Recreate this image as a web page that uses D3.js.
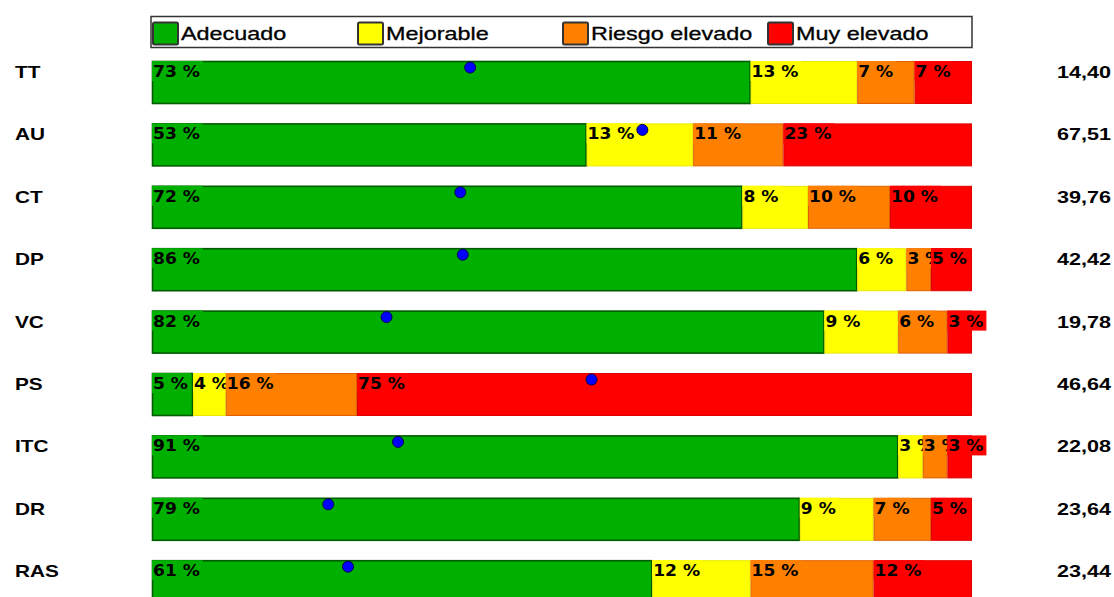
<!DOCTYPE html>
<html>
<head>
<meta charset="utf-8">
<script src="https://cdn.jsdelivr.net/npm/d3@7"></script>
<style>
  html, body { margin: 0; padding: 0; background: #fff; }
  svg { display: block; }
</style>
</head>
<body>
<svg id="chart" width="1114" height="597"></svg>
<script>
// Dimensions evaluated, in display order
const categories = ["TT", "AU", "CT", "DP", "VC", "PS", "ITC", "DR", "RAS"];

// Percentage of people in each risk level
const levels = ["Adecuado", "Mejorable", "Riesgo elevado", "Muy elevado"];
const adecuado      = [73, 53, 72, 86, 82,  5, 91, 79, 61];
const mejorable     = [13, 13,  8,  6,  9,  4,  3,  9, 12];
const riesgoElevado = [ 7, 11, 10,  3,  6, 16,  3,  7, 15];
const muyElevado    = [ 7, 23, 10,  5,  3, 75,  3,  5, 12];

// Mean score marker, on the same 0-100 axis
const media = [38.8, 59.8, 37.6, 37.9, 28.6, 53.6, 30.0, 21.5, 23.9];

// Figure shown to the right of each bar
const valores = ["14,40", "67,51", "39,76", "42,42", "19,78", "46,64", "22,08", "23,64", "23,44"];

const colors = ["#00b000", "#ffff00", "#ff8000", "#ff0000"];
const strokes = ["#005a00", "#e8e800", "#e06000", "#e00000"];

const series = [adecuado, mejorable, riesgoElevado, muyElevado];

const svg = d3.select("#chart");

const x = d3.scaleLinear().domain([0, 100]).range([152, 972]);
const y = d3.scaleBand()
  .domain(categories)
  .range([61, 61 + 8 * 62.4 + 43])
  .paddingInner(0.311)
  .paddingOuter(0);

// Legend
const legend = svg.append("g");
legend.append("rect")
  .attr("x", 151).attr("y", 16.5)
  .attr("width", 821).attr("height", 31)
  .attr("fill", "#fff").attr("stroke", "#333").attr("stroke-width", 1.5);

const legendStep = (x(100) - x(0)) / levels.length;
levels.forEach((name, i) => {
  const lx = x(0) + i * legendStep;
  legend.append("rect")
    .attr("x", lx + 1).attr("y", 22.5)
    .attr("width", 25).attr("height", 22)
    .attr("rx", 1.5)
    .attr("fill", colors[i]).attr("stroke", "#333").attr("stroke-width", 2);
  legend.append("text")
    .attr("transform", `translate(${lx + 29},40) scale(1.3,1)`)
    .attr("font-family", "Liberation Sans, Arial, sans-serif")
    .attr("font-size", 18)
    .attr("fill", "#000")
    .attr("stroke", "#000").attr("stroke-width", 0.3)
    .text(name);
});

// Bars
const rows = svg.append("g");
categories.forEach((cat, r) => {
  const top = y(cat);
  const h = y.bandwidth();
  const g = rows.append("g");
  let acc = 0;
  series.forEach((vals, s) => {
    const v = vals[r];
    const x0 = x(acc), x1 = x(acc + v);
    g.append("rect")
      .attr("x", x0 + 0.5).attr("y", top + 0.5)
      .attr("width", Math.max(0, x1 - x0 - 1)).attr("height", h - 1)
      .attr("fill", colors[s])
      .attr("stroke", strokes[s])
      .attr("stroke-width", s === 0 ? 1.6 : 1);

    // value label with a background box in the segment colour
    const lab = g.append("g");
    const box = lab.append("rect")
      .attr("x", x0).attr("y", top)
      .attr("height", 20)
      .attr("fill", colors[s]);
    const t = lab.append("text")
      .attr("transform", `translate(${x0 + 1},${top + 16}) scale(1.07,1)`)
      .attr("font-family", "DejaVu Sans, sans-serif")
      .attr("font-weight", "bold")
      .attr("font-size", 16)
      .attr("fill", "#000")
      .text(`${v} %`);
    const w = t.node().getComputedTextLength() * 1.07;
    box.attr("width", w + 4);
    acc += v;
  });

  // category label
  rows.append("text")
    .attr("transform", `translate(15,${top + 17}) scale(1.3,1)`)
    .attr("font-family", "Liberation Sans, Arial, sans-serif")
    .attr("font-weight", "bold")
    .attr("font-size", 16)
    .attr("fill", "#000")
    .text(cat);

  // value on the right
  rows.append("text")
    .attr("transform", `translate(1057,${top + 17}) scale(1.35,1)`)
    .attr("font-family", "Liberation Sans, Arial, sans-serif")
    .attr("font-weight", "bold")
    .attr("font-size", 16)
    .attr("fill", "#000")
    .text(valores[r]);
});

// Mean markers on top
svg.append("g").selectAll("circle")
  .data(categories)
  .join("circle")
  .attr("cx", (d, i) => x(media[i]))
  .attr("cy", d => y(d) + 6.5)
  .attr("r", 5.5)
  .attr("fill", "#0000ff")
  .attr("stroke", "#000050")
  .attr("stroke-width", 1);
</script>
</body>
</html>
